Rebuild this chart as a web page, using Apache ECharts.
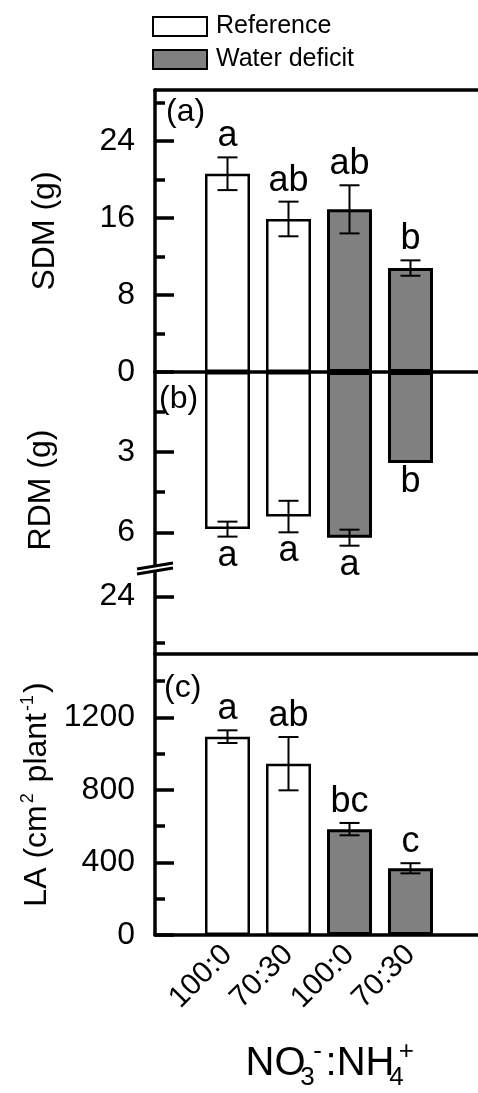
<!DOCTYPE html>
<html><head><meta charset="utf-8">
<script src="https://cdn.jsdelivr.net/npm/echarts@6/dist/echarts.min.js"></script>
<style>html,body{margin:0;padding:0;background:#fff}#c{width:478px;height:1093px}</style>
</head><body><div id="c"></div>
<script>
// ---- data ----
const categories = ['100:0', '70:30', '100:0', '70:30'];
const groups = ['Reference', 'Reference', 'Water deficit', 'Water deficit'];
const sdm = [20.6, 15.9, 16.9, 10.8];
const sdmErr = [1.7, 1.8, 2.5, 0.8];
const sdmLetters = ['a', 'ab', 'ab', 'b'];
const rdm = [5.88, 5.41, 6.20, 3.41];
const rdmErr = [0.28, 0.59, 0.30, 0];
const rdmLetters = ['a', 'a', 'a', 'b'];
const la = [1094, 945, 584, 368];
const laErr = [35, 147, 34, 28];
const laLetters = ['a', 'ab', 'bc', 'c'];
const sdmTicks = [0, 8, 16, 24], sdmMinor = [4, 12, 20, 28];
const rdmTicks = [3, 6], rdmMinor = [1.5, 4.5];
const rdmBreakTicks = [24], rdmBreakMinor = [28];
const laTicks = [0, 400, 800, 1200], laMinor = [200, 600, 1000, 1400];

const FONT = '"Liberation Sans", Arial, sans-serif';
const BLACK = '#000', GRAY = '#808080';
const lineSt = { color: BLACK, width: 3.5 };

const grids = [], xAxes = [], yAxes = [], series = [];

function addPanel(c) {
  const gF = grids.length; grids.push({ left: 155, right: -30, top: c.top, height: c.h });
  const gB = grids.length; grids.push({ left: 197, right: 37, top: c.top, height: c.h });
  const frameX = (pos, show) => {
    xAxes.push({ gridIndex: gF, type: 'value', min: 0, max: 1, position: pos,
      axisLine: { show: show, onZero: false, lineStyle: lineSt },
      axisTick: { show: false }, axisLabel: { show: false }, splitLine: { show: false } });
    return xAxes.length - 1;
  };
  frameX('bottom', !!c.bottomLine);
  if (c.topLine) frameX('top', true);
  const yMain = { gridIndex: gF, type: 'value', position: 'left', min: c.min, max: c.max, inverse: !!c.inverse,
    axisLine: { show: true, onZero: false, lineStyle: lineSt },
    axisTick: { show: true, inside: true, length: 19, lineStyle: { color: BLACK, width: 3.5 }, customValues: c.ticks },
    axisLabel: { show: true, customValues: c.ticks, margin: 20, fontSize: 32, fontFamily: FONT, color: BLACK,
      formatter: function (v) { return String(v); } },
    splitLine: { show: false } };
  if (c.name) {
    Object.assign(yMain, { name: c.name, nameLocation: 'middle', nameGap: c.nameGap, nameRotate: 90,
      nameTextStyle: Object.assign({ fontSize: 32, fontFamily: FONT, color: BLACK }, c.nameStyle || {}) });
  }
  yAxes.push(yMain);
  yAxes.push({ gridIndex: gF, type: 'value', position: 'left', min: c.min, max: c.max, inverse: !!c.inverse,
    axisLine: { show: false },
    axisTick: { show: true, inside: true, length: 10, lineStyle: { color: BLACK, width: 3.5 }, customValues: c.minor },
    axisLabel: { show: false }, splitLine: { show: false } });
  if (!c.values) return;
  const xB = xAxes.length;
  xAxes.push({ gridIndex: gB, type: 'category', data: categories,
    axisLine: { show: false }, axisTick: { show: false },
    axisLabel: c.showCats ? { show: true, interval: 0, rotate: 45, fontSize: 30, fontFamily: FONT, color: BLACK, margin: 15 } : { show: false },
    name: c.xName || '', nameLocation: 'middle', nameGap: c.xNameGap || 0,
    nameTextStyle: c.xNameStyle || {} });
  const yB = yAxes.length;
  yAxes.push({ gridIndex: gB, type: 'value', min: c.min, max: c.max, inverse: !!c.inverse, show: false });
  ['Reference', 'Water deficit'].forEach(function (g) {
    series.push({ type: 'bar', name: g, xAxisIndex: xB, yAxisIndex: yB, barWidth: 45, barGap: '-100%',
      itemStyle: { color: g === 'Reference' ? '#fff' : GRAY, borderColor: BLACK, borderWidth: g === 'Reference' ? 2.5 : 3 },
      data: c.values.map(function (v, i) { return groups[i] === g ? v : '-'; }),
      silent: true, animation: false, z: 2 });
  });
  const letters = c.letters, inv = !!c.inverse;
  series.push({ type: 'custom', xAxisIndex: xB, yAxisIndex: yB, animation: false, silent: true, z: 5,
    data: c.values.map(function (v, i) { return [i, v, c.errs[i]]; }),
    renderItem: function (params, api) {
      const i = api.value(0), v = api.value(1), e = api.value(2);
      const p = api.coord([i, v]);
      const hi = api.coord([i, v + e]);
      const lo = api.coord([i, v - e]);
      const x = p[0], cw = 10;
      const ch = [];
      if (e > 0) {
        const st = { stroke: BLACK, lineWidth: 2 };
        ch.push({ type: 'line', shape: { x1: x, y1: hi[1], x2: x, y2: lo[1] }, style: st });
        ch.push({ type: 'line', shape: { x1: x - cw, y1: hi[1], x2: x + cw, y2: hi[1] }, style: st });
        ch.push({ type: 'line', shape: { x1: x - cw, y1: lo[1], x2: x + cw, y2: lo[1] }, style: st });
      }
      ch.push({ type: 'text', x: x, y: inv ? hi[1] + 1 : hi[1] - 3,
        style: { text: letters[params.dataIndex], fill: BLACK, font: '36px ' + FONT,
          textAlign: 'center', textVerticalAlign: inv ? 'top' : 'bottom' } });
      return { type: 'group', children: ch };
    } });
}

addPanel({ top: 90, h: 282, min: 0, max: 29.3, ticks: sdmTicks, minor: sdmMinor, topLine: true, bottomLine: true,
  name: 'SDM (g)', nameGap: 94, values: sdm, errs: sdmErr, letters: sdmLetters });
addPanel({ top: 372, h: 196, min: 0, max: 7.335, inverse: true, ticks: rdmTicks, minor: rdmMinor,
  name: 'RDM (g)', nameGap: 98, nameStyle: { padding: [0, 40, 0, 0] }, values: rdm, errs: rdmErr, letters: rdmLetters });
addPanel({ top: 568, h: 86, min: 21.5, max: 29, inverse: true, ticks: rdmBreakTicks, minor: rdmBreakMinor });
addPanel({ top: 654, h: 281, min: 0, max: 1550, ticks: laTicks, minor: laMinor, topLine: true, bottomLine: true,
  name: 'LA (cm{sup|2} plant{sup|-1})', nameGap: 90,
  nameStyle: { rich: { sup: { fontSize: 18, fontFamily: FONT, color: BLACK, verticalAlign: 'top', padding: [0, 2, 18, 2] } } },
  values: la, errs: laErr, letters: laLetters, showCats: true,
  xName: 'NO{sub|3}{sup|-}:NH{sub|4}{sup|+}', xNameGap: 102,
  xNameStyle: { fontSize: 40, fontFamily: FONT, color: BLACK, padding: [0, 0, 0, 22],
    rich: { sub: { fontSize: 26, fontFamily: FONT, color: BLACK, width: 0, padding: [28, 0, 0, 2] },
            sup: { fontSize: 26, fontFamily: FONT, color: BLACK, width: 16, padding: [0, 0, 24, 2] } } } });

const option = {
  backgroundColor: '#fff',
  animation: false,
  legend: { orient: 'vertical', left: 147, top: 9, itemWidth: 54, itemHeight: 19, itemGap: 8,
    selectedMode: false, data: ['Reference', 'Water deficit'], icon: 'rect',
    itemStyle: { borderColor: BLACK, borderWidth: 2 },
    textStyle: { fontSize: 25, fontFamily: FONT, color: BLACK, padding: [0, 0, 0, 4] } },
  grid: grids, xAxis: xAxes, yAxis: yAxes, series: series,
  graphic: [
    { type: 'text', x: 166, y: 112, z: 100, style: { text: '(a)', font: '32px ' + FONT, fill: BLACK, textVerticalAlign: 'middle' } },
    { type: 'text', x: 159, y: 399, z: 100, style: { text: '(b)', font: '32px ' + FONT, fill: BLACK, textVerticalAlign: 'middle' } },
    { type: 'text', x: 164, y: 688, z: 100, style: { text: '(c)', font: '32px ' + FONT, fill: BLACK, textVerticalAlign: 'middle' } },
    { type: 'polygon', z: 100, shape: { points: [[137, 569], [173, 563], [173, 568], [137, 574]] }, style: { fill: '#fff' } },
    { type: 'line', z: 101, shape: { x1: 137, y1: 569, x2: 173, y2: 563 }, style: { stroke: BLACK, lineWidth: 3 } },
    { type: 'line', z: 101, shape: { x1: 137, y1: 574, x2: 173, y2: 568 }, style: { stroke: BLACK, lineWidth: 3 } }
  ]
};
const chart = echarts.init(document.getElementById('c'), null, { renderer: 'canvas' });
chart.setOption(option);
</script></body></html>
